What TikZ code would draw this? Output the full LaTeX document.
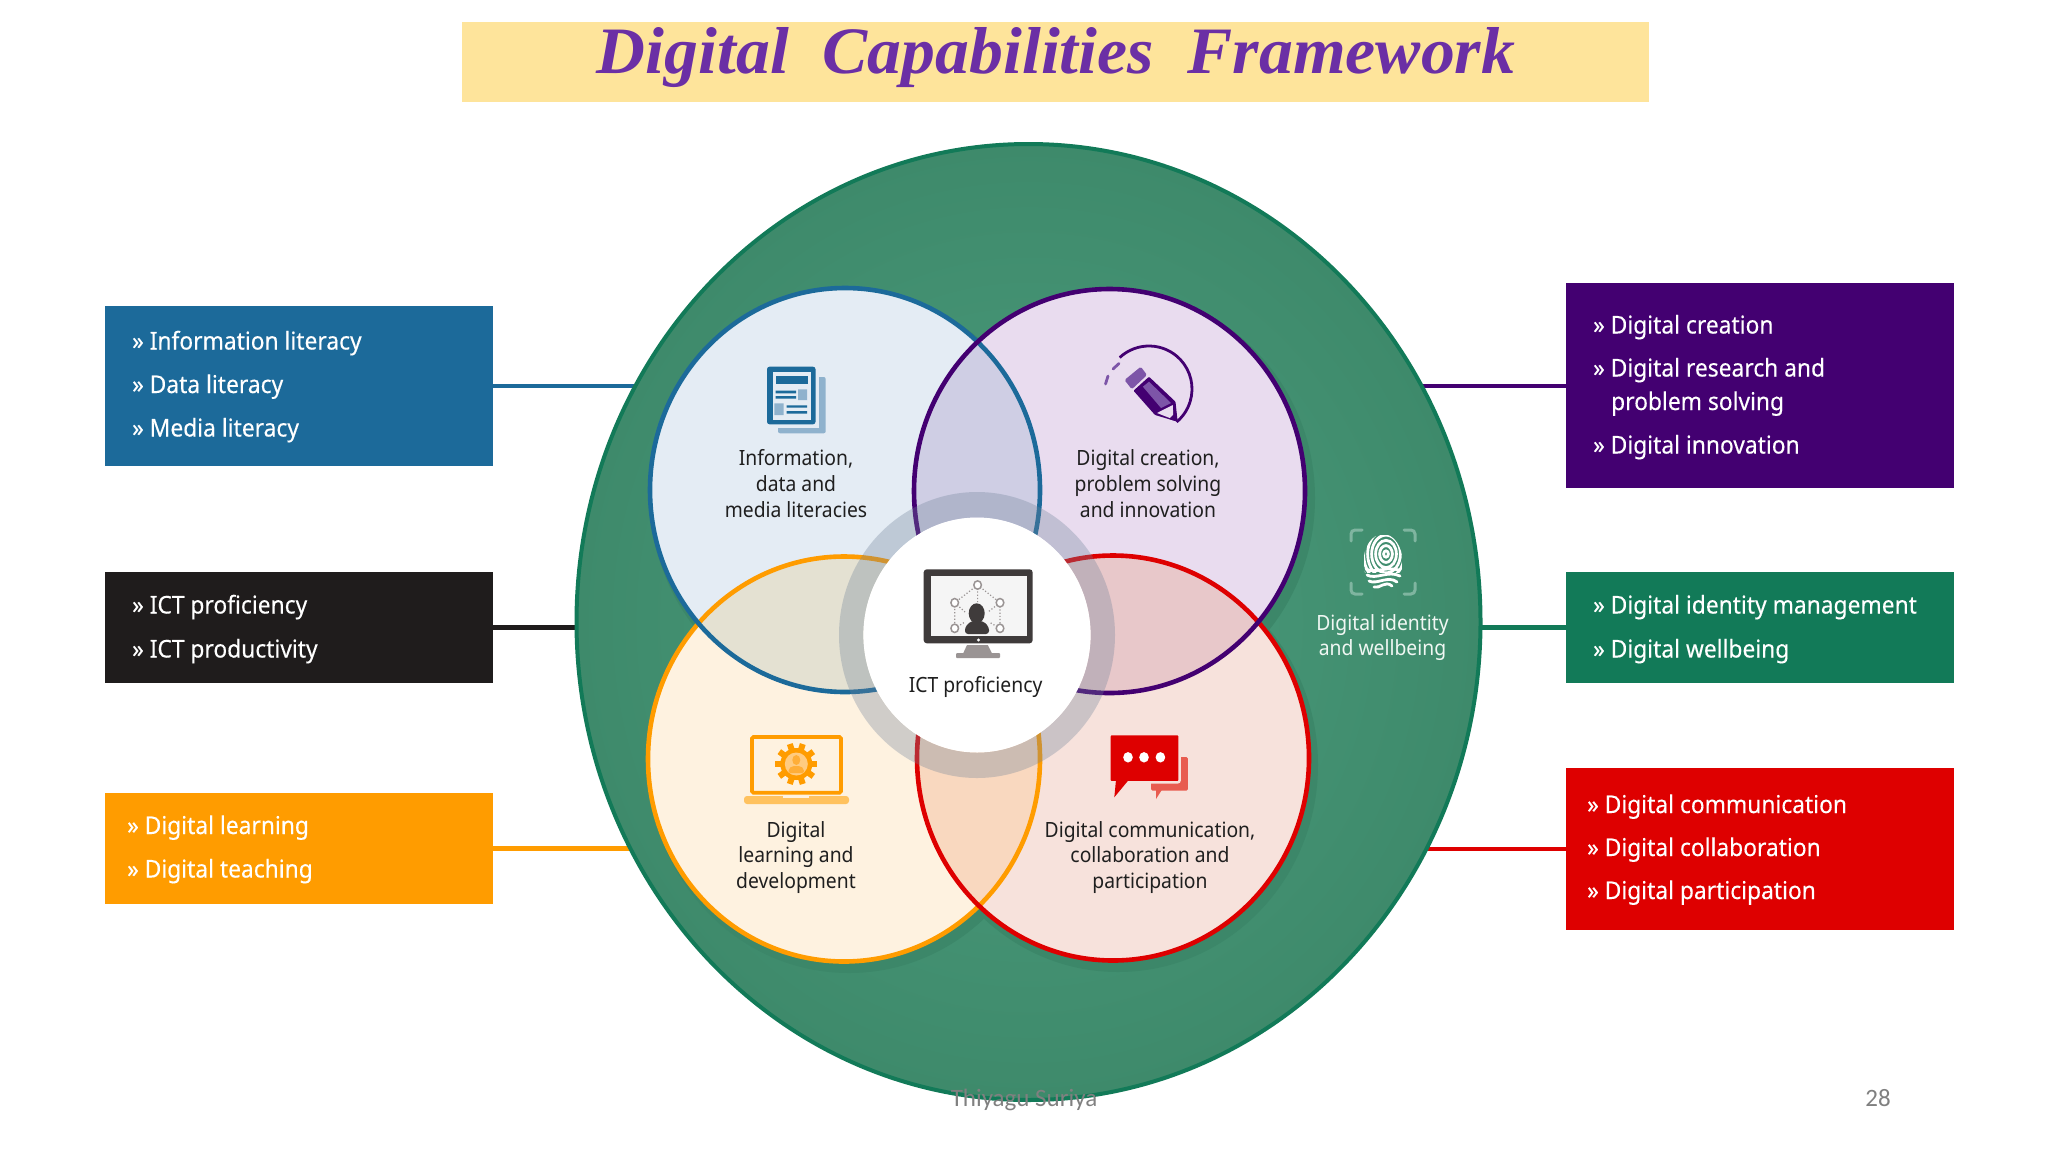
\documentclass[tikz,border=0pt]{standalone}
\usepackage{fontspec}
\usetikzlibrary{shapes.geometric}
\setmainfont{Noto Sans}[FakeStretch=0.92]
\newfontfamily\itemfont{Noto Sans}[FakeStretch=0.93,FakeBold=0.25]
\newfontfamily\footfont{Carlito}
\newfontfamily\titlefont{Liberation Serif}
\definecolor{cblue}{HTML}{1C6A9A}
\definecolor{cblack}{HTML}{1F1C1C}
\definecolor{corange}{HTML}{FF9C00}
\definecolor{cpurple}{HTML}{430071}
\definecolor{cgreen}{HTML}{127A58}
\definecolor{cred}{HTML}{DE0000}
\definecolor{fblue}{HTML}{E4ECF4}
\definecolor{fpurple}{HTML}{E9DCEF}
\definecolor{forange}{HTML}{FEF2E0}
\definecolor{fred}{HTML}{F7E2DC}
\definecolor{ovbp}{HTML}{CFCEE4}
\definecolor{ovbo}{HTML}{E4E1D2}
\definecolor{ovpr}{HTML}{E8C8CA}
\definecolor{ovor}{HTML}{F9D8BF}
\definecolor{shadowg}{HTML}{3C8769}
\definecolor{monitorc}{HTML}{3F3B3B}
\definecolor{standc}{HTML}{9A9494}
\definecolor{cband}{HTML}{FEE49B}
\definecolor{titlepurple}{HTML}{6B2FA5}
\definecolor{gin}{HTML}{4C9D7E}
\definecolor{gout}{HTML}{3E8A6B}
\definecolor{ringc}{HTML}{6F8299}
\definecolor{lightg}{HTML}{F0F7F3}
\definecolor{cpage}{HTML}{8FB2CD}
\definecolor{cpen}{HTML}{7D55A8}
\definecolor{clap}{HTML}{FFC25F}
\definecolor{cgear}{HTML}{FFCB80}
\definecolor{cgearp}{HTML}{FFAE38}
\definecolor{cbub}{HTML}{E85C50}
\definecolor{cbrack}{HTML}{7FB5A0}
\pgfdeclarelayer{bg}
\pgfsetlayers{bg,main}
\newcommand\circTL{(845,490) ellipse [x radius=195pt,y radius=202pt]}
\newcommand\circTR{(1109.5,491) ellipse [x radius=195.5pt,y radius=202pt]}
\newcommand\circBL{(844,759) ellipse [x radius=196pt,y radius=202.5pt]}
\newcommand\circBR{(1113,758) ellipse [x radius=196pt,y radius=202.5pt]}
\tikzset{
  listbox/.style={anchor=north west,inner sep=0pt,outer sep=0pt,minimum width=388pt},
  itemtxt/.style={anchor=base west,inner sep=0pt,text=white,font=\itemfont\fontsize{24.5}{33}\selectfont,align=left},
  venntxt/.style={inner sep=0pt,text=black!88,align=center,font=\fontsize{21}{25.7}\selectfont},
  vennring/.style={ellipse,inner sep=0pt,outer sep=0pt,line width=4.6pt},
  link/.style={line width=4.2pt},
  footertxt/.style={inner sep=0pt,text=black!50,font=\footfont\fontsize{25}{28}\selectfont},
}
\begin{document}
\begin{tikzpicture}[x=1pt,y=-1pt]
\useasboundingbox (0,0) rectangle (2048,1152);
% title
\node[inner sep=0pt,outer sep=0pt,fill=cband,minimum width=1187pt,minimum height=80pt,anchor=north west] (band) at (462,22) {};
\node[inner sep=0pt,anchor=base,text=titlepurple] (title) at (1056,73) {\resizebox{918pt}{46pt}{\titlefont\bfseries\itshape Digital\ \ Capabilities\ \ Framework}};
% main ellipse
\node[ellipse,inner sep=0pt,outer sep=0pt,minimum width=904pt,minimum height=956pt,draw=cgreen,line width=4pt,inner color=gin,outer color=gout] (big) at (1028.5,622) {};
% shadows
\fill[shadowg] (850,497) ellipse [x radius=200pt,y radius=207pt];
\fill[shadowg] (1115,498) ellipse [x radius=200pt,y radius=207pt];
\fill[shadowg] (849,766) ellipse [x radius=200pt,y radius=207pt];
\fill[shadowg] (1118,765) ellipse [x radius=200pt,y radius=207pt];
% circle fills
\fill[forange] \circBL;
\fill[fred] \circBR;
\fill[fblue] \circTL;
\fill[fpurple] \circTR;
\begin{scope}\clip \circTL; \fill[ovbp] \circTR; \end{scope}
\begin{scope}\clip \circTL; \fill[ovbo] \circBL; \end{scope}
\begin{scope}\clip \circTR; \fill[ovpr] \circBR; \end{scope}
\begin{scope}\clip \circBL; \fill[ovor] \circBR; \end{scope}
% circle outlines
\node[vennring,draw=corange,minimum width=392pt,minimum height=405pt] (ringBL) at (844,759) {};
\node[vennring,draw=cred,minimum width=392pt,minimum height=405pt] (ringBR) at (1113,758) {};
\node[vennring,draw=cblue,minimum width=390pt,minimum height=404pt] (ringTL) at (845,490) {};
\node[vennring,draw=cpurple,minimum width=391pt,minimum height=404pt] (ringTR) at (1109.5,491) {};
% central ring
\fill[ringc,opacity=.32,even odd rule] (977,635) ellipse [x radius=138pt,y radius=143pt] (977,635) ellipse [x radius=113.6pt,y radius=117.5pt];
\node[ellipse,fill=white,inner sep=0pt,outer sep=0pt,minimum width=227.2pt,minimum height=235pt] (core) at (977,635) {};
% venn texts
\node[venntxt] (t1) at (796,483.5) {Information,\\data and\\media literacies};
\node[venntxt] (t2) at (1148,483.5) {Digital creation,\\problem solving\\and innovation};
\node[venntxt] (t3) at (796,857.5) {Digital\\learning and\\development};
\node[venntxt] (t4) at (1150,857.5) {Digital communication,\\collaboration and\\participation};
\node[venntxt] (t5) at (975.6,687) {ICT proficiency};
\node[venntxt,text=lightg,font=\fontsize{21}{25.7}\selectfont] (t6) at (1382.5,637.5) {Digital identity\\and wellbeing};
% newspaper icon
\fill[cpage,rounded corners=2pt] (778,377) rectangle (825.7,433.3);
\fill[fblue] (774,372) rectangle (819,428);
\fill[cblue,rounded corners=2.5pt] (767,366.7) rectangle (815.5,424.3);
\fill[fblue] (772.6,371.7) rectangle (811,420);
\fill[cblue] (775.5,376) rectangle (808,384);
\fill[cblue] (775.5,390.7) rectangle (796,393.3) (775.5,396) rectangle (796,398.7) (786.5,405.3) rectangle (807,407.7) (786.5,411) rectangle (807,413.7);
\fill[cpage] (798,389.3) rectangle (807,400) (774.3,403.3) rectangle (783.7,415);
% pencil icon
\draw[cpurple,line width=2.8pt] (1149,389) ++(133:43pt) arc[start angle=133,end angle=-50,radius=43pt];
\draw[cpen,line width=2.8pt,line cap=round] (1119,363.5) -- (1113,369) (1108,376) -- (1105.5,384);
\fill[cpen,rounded corners=1.5pt] (1124.5,380) -- (1140.8,366.7) -- (1147,375) -- (1131.8,389.3) -- cycle;
\fill[cpurple,rounded corners=1pt] (1133.5,390.7) -- (1149,376.7) -- (1175.5,401.7) -- (1177.6,421.7) -- (1155,415) -- cycle;
\fill[fpurple] (1157,413) -- (1173.5,419.5) -- (1172.7,405) -- cycle;
\fill[cpen] (1142.9,386.7) -- (1149,381.7) -- (1171,403) -- (1161,408) -- cycle;
\fill[cpurple] (1177.6,421.7) -- (1169,419) -- (1176,412) -- cycle;
% monitor icon
\fill[monitorc,rounded corners=3pt] (923.7,569.3) rectangle (1032.6,643.3);
\fill[white!96!black] (930.6,576) rectangle (1026.5,636);
\fill[white] (978.4,640) circle (1.6pt);
\fill[standc] (967,645) -- (987.8,645) -- (991.8,653) -- (963.3,653) -- cycle;
\fill[standc,rounded corners=1pt] (956,653) rectangle (1000,658);
\draw[standc,line width=1.2pt,dotted] (977.6,585) -- (954.7,602.7) -- (954.7,628.3) (977.6,585) -- (1000,602.7) -- (1000,628.3) (977.6,585) -- (977.6,604) (954.7,602.7) -- (965,612) (1000,602.7) -- (988,612) (954.7,628.3) -- (965,622) (1000,628.3) -- (989,622);
\foreach \px/\py in {977.6/585,954.7/602.7,1000/602.7,954.7/628.3,1000/628.3}
  \draw[standc,line width=1.5pt,fill=white] (\px,\py) ellipse [x radius=3.8pt,y radius=4.2pt];
\fill[monitorc] (976.7,613.3) ellipse [x radius=8pt,y radius=10pt];
\fill[monitorc,rounded corners=3pt] (965,634) -- (965,627) -- (971,621) -- (983,621) -- (989,627) -- (989,634) -- cycle;
% laptop icon
\draw[corange,line width=3.6pt,rounded corners=1.5pt] (752,737) rectangle (841,792.7);
\fill[clap,rounded corners=3pt] (744,796) -- (849,796) -- (849,804) -- (744,804) -- cycle;
\fill[forange] (783,796) rectangle (809,798);
\foreach \a in {0,36,...,324}
  \draw[corange,line width=6pt] (796.3,764) ++(\a:13) -- ++(\a:8);
\fill[corange] (796.3,764) circle (16pt);
\fill[cgear] (796.3,764) circle (11.5pt);
\fill[cgearp] (796.3,760) ellipse [x radius=4pt,y radius=5pt];
\fill[cgearp,rounded corners=2pt] (788.5,773) -- (788.5,769) -- (792,766) -- (800.5,766) -- (804,769) -- (804,773) -- cycle;
% speech bubbles icon
\fill[cbub,rounded corners=1.5pt] (1151,757) rectangle (1187.8,790.7);
\fill[cbub] (1156,788) -- (1156,799) -- (1163,788) -- cycle;
\draw[fred,line width=2.5pt,fill=cred,rounded corners=2pt] (1109.4,734) rectangle (1179.6,782.3);
\fill[cred] (1116,780) -- (1114.3,797.3) -- (1128.6,780) -- cycle;
\fill[white] (1128,757.3) ellipse [x radius=4.8pt,y radius=5.2pt] (1144,757.3) ellipse [x radius=4.8pt,y radius=5.2pt] (1160.4,757.3) ellipse [x radius=4.8pt,y radius=5.2pt];
% fingerprint icon
\draw[cbrack,line width=3pt,line cap=round,rounded corners=4pt]
  (1351,541) -- (1351,530) -- (1362,530)
  (1404,530) -- (1415,530) -- (1415,541)
  (1351,583) -- (1351,594) -- (1362,594)
  (1404,594) -- (1415,594) -- (1415,583);
\begin{scope}
  \clip (1364,535) rectangle (1402,572);
  \clip (1383,562) ellipse [x radius=19.5pt,y radius=28pt];
  \foreach \r in {3,8,13,18,23,28,33}
    \draw[white,line width=2.8pt] (1386,554) ellipse [x radius=\r*0.8 pt,y radius=\r*1.05 pt];
\end{scope}
\draw[white,line width=2.8pt,line cap=round]
  (1366,569) .. controls (1375,574) and (1385,566) .. (1399,570)
  (1367,575) .. controls (1376,580) and (1388,570) .. (1400,576)
  (1369,581) .. controls (1377,585) and (1388,575) .. (1397,582)
  (1374,587) .. controls (1380,589) and (1385,580) .. (1392,586);
% list boxes
\node[listbox,fill=cblue,minimum height=160.4pt] (bblue) at (104.5,305.6) {};
\node[listbox,fill=cblack,minimum height=111pt] (bblack) at (104.5,572) {};
\node[listbox,fill=corange,minimum height=111pt] (borange) at (104.5,793) {};
\node[listbox,fill=cpurple,minimum height=205pt] (bpurple) at (1566,283.4) {};
\node[listbox,fill=cgreen,minimum height=111pt] (bgreen) at (1566,572) {};
\node[listbox,fill=cred,minimum height=162pt] (bred) at (1566,768) {};
% list entries
\node[itemtxt] (l1) at (132,349.5) {» Information literacy};
\node[itemtxt] (l2) at (132,393) {» Data literacy};
\node[itemtxt] (l3) at (132,436.5) {» Media literacy};
\node[itemtxt] (l4) at (132,613.5) {» ICT proficiency};
\node[itemtxt] (l5) at (132,657.5) {» ICT productivity};
\node[itemtxt] (l6) at (127,834) {» Digital learning};
\node[itemtxt] (l7) at (127,877.5) {» Digital teaching};
\node[itemtxt] (r1) at (1593,333.5) {» Digital creation};
\node[itemtxt] (r2) at (1593,376.5) {» Digital research and};
\node[itemtxt] (r2b) at (1611,410) {problem solving};
\node[itemtxt] (r3) at (1593,453.5) {» Digital innovation};
\node[itemtxt] (r4) at (1593,613.5) {» Digital identity management};
\node[itemtxt] (r5) at (1593,657.5) {» Digital wellbeing};
\node[itemtxt] (r6) at (1587,813) {» Digital communication};
\node[itemtxt] (r7) at (1587,856) {» Digital collaboration};
\node[itemtxt] (r8) at (1587,899) {» Digital participation};
% footer
\node[footertxt] (foot) at (1024,1099.5) {Thiyagu Suriya};
\node[footertxt] (page) at (1878,1098.5) {28};
% connectors behind the big ellipse
\begin{pgfonlayer}{bg}
  \draw[link,cblue] (bblue.east) -- (bblue.east -| big.center);
  \draw[link,cblack] (bblack.east) -- (bblack.east -| big.center);
  \draw[link,corange] (borange.east) -- (borange.east -| big.center);
  \draw[link,cpurple] (bpurple.west) -- (bpurple.west -| big.center);
  \draw[link,cgreen] (bgreen.west) -- (bgreen.west -| big.center);
  \draw[link,cred] (bred.west) -- (bred.west -| big.center);
\end{pgfonlayer}
\end{tikzpicture}
\end{document}
